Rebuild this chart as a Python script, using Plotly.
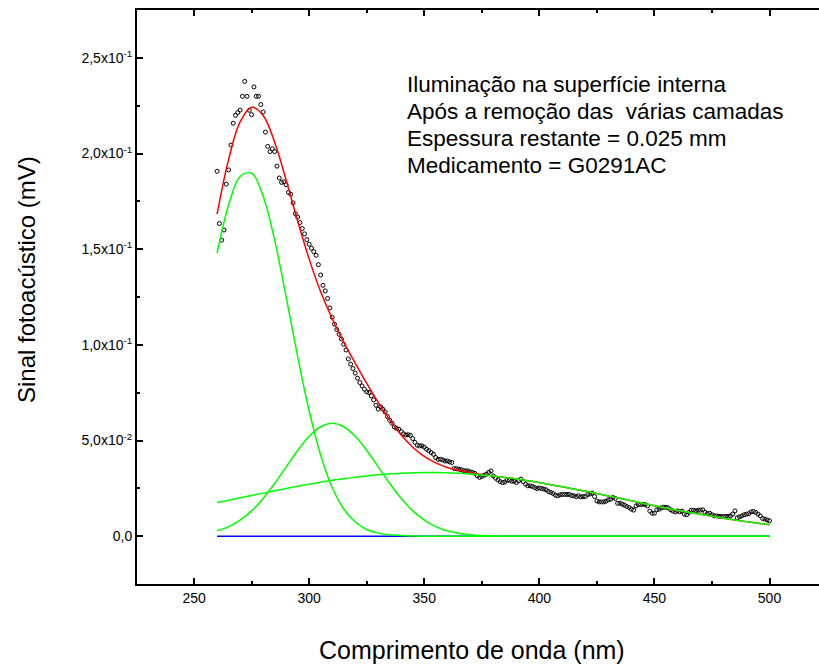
import plotly.graph_objects as go

# ---- data ----
wavelength = list(range(260, 501))
signal = [
    0.1907, 0.1634, 0.1547, 0.1600, 0.1840, 0.1914, 0.2044, 0.2158, 0.2200, 0.2214,
    0.2227, 0.2299, 0.2377, 0.2299, 0.2226, 0.2203, 0.2348, 0.2299, 0.2299, 0.2256,
    0.2217, 0.2112, 0.2037, 0.2010, 0.2024, 0.2010, 0.1934, 0.1872, 0.1849, 0.1852,
    0.1837, 0.1797, 0.1787, 0.1742, 0.1686, 0.1668, 0.1639, 0.1608, 0.1580, 0.1550,
    0.1526, 0.1505, 0.1487, 0.1468, 0.1419, 0.1365, 0.1311, 0.1282, 0.1242, 0.1193,
    0.1144, 0.1108, 0.1080, 0.1055, 0.1031, 0.1003, 0.0973, 0.0926, 0.0899, 0.0876,
    0.0852, 0.0826, 0.0803, 0.0785, 0.0768, 0.0754, 0.0751, 0.0733, 0.0712, 0.0684,
    0.0664, 0.0676, 0.0664, 0.0649, 0.0625, 0.0606, 0.0590, 0.0571, 0.0563, 0.0559,
    0.0547, 0.0535, 0.0529, 0.0530, 0.0527, 0.0510, 0.0490, 0.0475, 0.0472, 0.0472,
    0.0465, 0.0455, 0.0447, 0.0437, 0.0428, 0.0411, 0.0402, 0.0402, 0.0399, 0.0393,
    0.0393, 0.0388, 0.0385, 0.0354, 0.0352, 0.0350, 0.0348, 0.0343, 0.0341, 0.0341,
    0.0336, 0.0333, 0.0328, 0.0316, 0.0307, 0.0312, 0.0318, 0.0324, 0.0333, 0.0341,
    0.0315, 0.0303, 0.0294, 0.0285, 0.0280, 0.0283, 0.0292, 0.0292, 0.0287, 0.0287,
    0.0280, 0.0289, 0.0298, 0.0285, 0.0272, 0.0263, 0.0263, 0.0260, 0.0254, 0.0249,
    0.0252, 0.0249, 0.0246, 0.0242, 0.0233, 0.0228, 0.0223, 0.0214, 0.0211, 0.0216,
    0.0218, 0.0218, 0.0218, 0.0218, 0.0213, 0.0211, 0.0207, 0.0211, 0.0205, 0.0207,
    0.0207, 0.0218, 0.0220, 0.0225, 0.0207, 0.0184, 0.0179, 0.0179, 0.0179, 0.0183,
    0.0190, 0.0193, 0.0202, 0.0197, 0.0172, 0.0172, 0.0167, 0.0162, 0.0155, 0.0150,
    0.0141, 0.0136, 0.0158, 0.0165, 0.0165, 0.0167, 0.0165, 0.0158, 0.0131, 0.0120,
    0.0120, 0.0138, 0.0141, 0.0148, 0.0151, 0.0151, 0.0148, 0.0138, 0.0132, 0.0127,
    0.0132, 0.0127, 0.0131, 0.0115, 0.0112, 0.0124, 0.0136, 0.0136, 0.0132, 0.0136,
    0.0136, 0.0138, 0.0125, 0.0118, 0.0120, 0.0112, 0.0106, 0.0106, 0.0104, 0.0103,
    0.0103, 0.0103, 0.0103, 0.0106, 0.0115, 0.0132, 0.0096, 0.0101, 0.0106, 0.0112,
    0.0115, 0.0118, 0.0127, 0.0129, 0.0124, 0.0115, 0.0106, 0.0092, 0.0089, 0.0084,
    0.0080,
]

fit_x = list(range(260, 501, 5))
fit_total = [
    0.1683, 0.1969, 0.2165, 0.2242, 0.2199, 0.2059, 0.1861, 0.1647, 0.1448, 0.1277,
    0.1136, 0.1014, 0.0904, 0.0798, 0.0699, 0.0608, 0.0529, 0.0465, 0.0417, 0.0383,
    0.0359, 0.0344, 0.0332, 0.0323, 0.0315, 0.0307, 0.0299, 0.0290, 0.0280, 0.0269,
    0.0258, 0.0247, 0.0235, 0.0223, 0.0210, 0.0198, 0.0185, 0.0172, 0.0159, 0.0147,
    0.0135, 0.0124, 0.0114, 0.0104, 0.0094, 0.0085, 0.0076, 0.0068, 0.0060,
]
peak1 = [
    0.1479, 0.1731, 0.1880, 0.1897, 0.1777, 0.1547, 0.1250, 0.0938, 0.0654, 0.0423,
    0.0254, 0.0142, 0.0074, 0.0035, 0.0016, 0.0007, 0.0003, 0.0001, 0, 0,
    0, 0, 0, 0, 0, 0, 0, 0, 0, 0,
    0, 0, 0, 0, 0, 0, 0, 0, 0, 0,
    0, 0, 0, 0, 0, 0, 0, 0, 0,
]
peak2 = [
    0.0028, 0.0050, 0.0084, 0.0132, 0.0197, 0.0275, 0.0362, 0.0448, 0.0522, 0.0572,
    0.0590, 0.0572, 0.0522, 0.0448, 0.0362, 0.0275, 0.0197, 0.0132, 0.0084, 0.0050,
    0.0028, 0.0015, 0.0007, 0.0003, 0.0001, 0, 0, 0, 0, 0,
    0, 0, 0, 0, 0, 0, 0, 0, 0, 0,
    0, 0, 0, 0, 0, 0, 0, 0, 0,
]
peak3 = [
    0.0176, 0.0188, 0.0201, 0.0213, 0.0225, 0.0237, 0.0249, 0.0261, 0.0272, 0.0282,
    0.0292, 0.0300, 0.0308, 0.0315, 0.0321, 0.0326, 0.0329, 0.0332, 0.0333, 0.0333,
    0.0331, 0.0329, 0.0325, 0.0320, 0.0314, 0.0307, 0.0299, 0.0290, 0.0280, 0.0269,
    0.0258, 0.0247, 0.0235, 0.0223, 0.0210, 0.0198, 0.0185, 0.0172, 0.0159, 0.0147,
    0.0135, 0.0124, 0.0114, 0.0104, 0.0094, 0.0085, 0.0076, 0.0068, 0.0060,
]
baseline_x = [260, 500]
baseline_y = [0, 0]

y_tickvals = [0, 0.05, 0.10, 0.15, 0.20, 0.25]
y_ticktext = ["0,0", "5,0x10<sup>-2</sup>", "1,0x10<sup>-1</sup>", "1,5x10<sup>-1</sup>",
              "2,0x10<sup>-1</sup>", "2,5x10<sup>-1</sup>"]
info_lines = [
    "Iluminação na superfície interna",
    "Após a remoção das&nbsp; várias camadas",
    "Espessura restante = 0.025 mm",
    "Medicamento = G0291AC",
]

FONT = "Arial, 'Liberation Sans', sans-serif"

fig = go.Figure()
fig.add_trace(go.Scatter(
    x=wavelength, y=signal, mode="markers",
    marker=dict(symbol="circle-open", size=4, color="black", line=dict(width=1, color="black")),
    showlegend=False))
fig.add_trace(go.Scatter(x=fit_x, y=fit_total, mode="lines", line=dict(color="#ff0000", width=1.5, shape="spline"), showlegend=False))
fig.add_trace(go.Scatter(x=baseline_x, y=baseline_y, mode="lines", line=dict(color="#0000ff", width=1.5), showlegend=False))
for p in (peak1, peak2, peak3):
    fig.add_trace(go.Scatter(x=fit_x, y=p, mode="lines", line=dict(color="#00ff00", width=1.5, shape="spline"), showlegend=False))

line_y_px = [84, 111, 138, 165]
for txt, py in zip(info_lines, line_y_px):
    fig.add_annotation(x=(405 - 137) / 682, y=(584 - py) / 574, xref="paper", yref="paper",
                       text=txt, showarrow=False, xanchor="left", yanchor="middle",
                       font=dict(family=FONT, size=22.5, color="black"))

fig.add_annotation(x=(26 - 137) / 682, y=(584 - 280) / 574, xref="paper", yref="paper",
                   text="Sinal fotoacústico (mV)", textangle=-90, showarrow=False,
                   xanchor="center", yanchor="middle", font=dict(family=FONT, size=24, color="black"))
fig.add_annotation(x=(472 - 137) / 682, y=(584 - 650) / 574, xref="paper", yref="paper",
                   text="Comprimento de onda (nm)", showarrow=False,
                   xanchor="center", yanchor="middle", font=dict(family=FONT, size=25, color="black"))

fig.update_layout(
    width=819, height=671,
    margin=dict(l=137, r=0, t=10, b=87, pad=0),
    paper_bgcolor="white", plot_bgcolor="white",
    font=dict(family=FONT, color="black"),
    showlegend=False,
)
fig.update_xaxes(
    range=[225.2, 521.5], showgrid=False, zeroline=False,
    showline=True, linecolor="black", linewidth=2, mirror="ticks",
    ticks="inside", ticklen=6, tickwidth=1.5, tickcolor="black",
    tickmode="linear", tick0=250, dtick=50,
    minor=dict(ticks="inside", ticklen=3, tickwidth=1.5, tickcolor="black", dtick=25, tick0=250, showgrid=False),
    tickfont=dict(family=FONT, size=14, color="black"),
)
fig.update_yaxes(
    range=[-0.025, 0.275], showgrid=False, zeroline=False,
    showline=True, linecolor="black", linewidth=2,
    ticks="inside", ticklen=6, tickwidth=1.5, tickcolor="black",
    tickvals=y_tickvals, ticktext=y_ticktext,
    minor=dict(ticks="inside", ticklen=3, tickwidth=1.5, tickcolor="black", dtick=0.025, tick0=0, showgrid=False),
    tickfont=dict(family=FONT, size=14, color="black"),
)

fig.write_html("out.html")
